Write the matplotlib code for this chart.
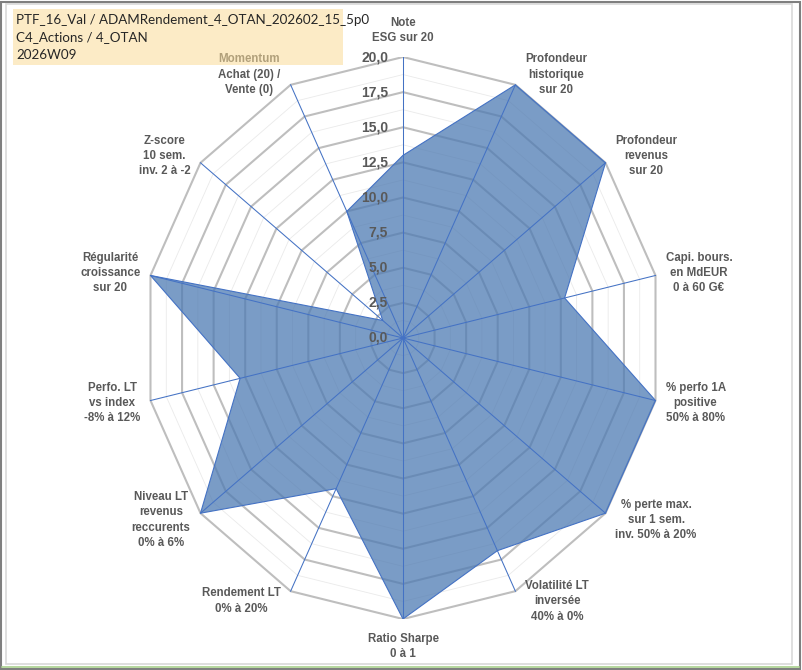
import numpy as np
import matplotlib
matplotlib.use("Agg")
import matplotlib.pyplot as plt
from matplotlib.patches import Rectangle, Polygon

# ---------------- data ----------------
categories = [
    "Note\nESG sur 20",
    "Profondeur\nhistorique\nsur 20",
    "Profondeur\nrevenus\nsur 20",
    "Capi. bours.\nen MdEUR\n0 à 60 G€",
    "% perfo 1A\npositive\n50% à 80%",
    "% perte max.\nsur 1 sem.\ninv. 50% à 20%",
    "Volatilité LT\ninversée\n40% à 0%",
    "Ratio Sharpe\n0 à 1",
    "Rendement LT\n0% à 20%",
    "Niveau LT\nrevenus\nreccurents\n0% à 6%",
    "Perfo. LT\nvs index\n-8% à 12%",
    "Régularité\ncroissance\nsur 20",
    "Z-score\n10 sem.\ninv. 2 à -2",
    "Momentum\nAchat (20) /\nVente (0)",
]
values = [13.0, 20.0, 20.0, 12.8, 20.0, 20.0, 16.8, 20.0, 11.9, 20.0, 12.9, 20.0, 2.0, 10.0]
major_ticks = [0.0, 2.5, 5.0, 7.5, 10.0, 12.5, 15.0, 17.5, 20.0]
minor_ticks = [1.25, 3.75, 6.25, 8.75, 11.25, 13.75, 16.25, 18.75]
tick_labels = ["0,0", "2,5", "5,0", "7,5", "10,0", "12,5", "15,0", "17,5", "20,0"]
title_lines = ["PTF_16_Val / ADAMRendement_4_OTAN_202602_15_5p0",
               "C4_Actions / 4_OTAN",
               "2026W09"]
rmax = 20.0

# ---------------- figure ----------------
W, H = 802, 670
fig = plt.figure(figsize=(W / 100, H / 100), dpi=100)
fig.patch.set_facecolor("white")

cx, cy, rx, ry = 403, 338, 259, 281
ax = fig.add_axes([(cx - rx) / W, (H - cy - ry) / H, 2 * rx / W, 2 * ry / H])
ax.set_xlim(-rmax, rmax)
ax.set_ylim(-rmax, rmax)
ax.set_aspect("auto")
ax.axis("off")

n = len(categories)
theta = 2 * np.pi * np.arange(n) / n
sx, sy = np.sin(theta), np.cos(theta)

# gridlines
for r in minor_ticks:
    ax.add_patch(Polygon(np.column_stack([r * sx, r * sy]), closed=True, fill=False,
                         edgecolor="#EAEAEA", lw=0.6, zorder=1))
for r in major_ticks[1:]:
    ax.add_patch(Polygon(np.column_stack([r * sx, r * sy]), closed=True, fill=False,
                         edgecolor="#BEBEBE", lw=1.5, zorder=2))

# series
v = np.array(values)
ax.add_patch(Polygon(np.column_stack([v * sx, v * sy]), closed=True,
                     facecolor="#4E7BB3", alpha=0.75, edgecolor="none", zorder=3))
ax.add_patch(Polygon(np.column_stack([v * sx, v * sy]), closed=True, fill=False,
                     edgecolor="#4472C4", lw=0.8, zorder=5))

# spokes
for i in range(n):
    ax.plot([0, rmax * sx[i]], [0, rmax * sy[i]], color="#4472C4", lw=0.75, zorder=4)

# radial tick labels
for t, lab in zip(major_ticks, tick_labels):
    ax.annotate(lab, xy=(0, t), xytext=(-15, 0), textcoords="offset pixels",
                ha="right", va="center", fontsize=10, fontweight="bold",
                color="#595959", family="Liberation Sans", zorder=6,
                annotation_clip=False)

# category labels
for i, lab in enumerate(categories):
    s, c = sx[i], sy[i]
    if abs(s) < 0.1:
        if c > 0:
            kw = dict(xytext=(0, 13), ha="center", va="bottom")
        else:
            kw = dict(xytext=(0, -14), ha="center", va="top")
    elif s > 0:
        kw = dict(xytext=(10, 11 * c), ha="left", va="center")
    else:
        kw = dict(xytext=(-10, 11 * c), ha="right", va="center")
    ax.annotate(lab, xy=(rmax * s, rmax * c), textcoords="offset pixels",
                multialignment="center", fontsize=8.3, fontweight="bold",
                color="#595959", family="Liberation Sans", linespacing=1.38,
                annotation_clip=False, zorder=6, **kw)

# title box (semi-transparent, covers part of the Momentum label)
fig.add_artist(Rectangle((13 / W, 1 - 65 / H), (343 - 13) / W, (65 - 9) / H,
                         transform=fig.transFigure, facecolor="#FADB97",
                         alpha=0.55, edgecolor="none", zorder=1))
for k, line in enumerate(title_lines):
    fig.text(16 / W, 1 - (20 + 17.5 * k) / H, line, ha="left", va="center",
             fontsize=9.6, color="#262626", family=["Lato", "DejaVu Sans"], zorder=3)

# frame borders
fig.add_artist(Rectangle((6 / W, 1 - 664 / H), (792 - 6) / W, (664 - 4) / H,
                         transform=fig.transFigure, fill=False,
                         edgecolor="#D9D9D9", lw=1.2, zorder=2))
fig.add_artist(Rectangle((1 / W, 1 / H), (800 - 1) / W, (668 - 1) / H,
                         transform=fig.transFigure, fill=False,
                         edgecolor="#7F7F7F", lw=1.5, zorder=2))
fig.add_artist(plt.Line2D([2 / W, 799 / W], [1 - 667 / H, 1 - 667 / H],
                          transform=fig.transFigure, color="#A9D18E", lw=1.2, zorder=2))

fig.savefig("out.png", dpi=100)
